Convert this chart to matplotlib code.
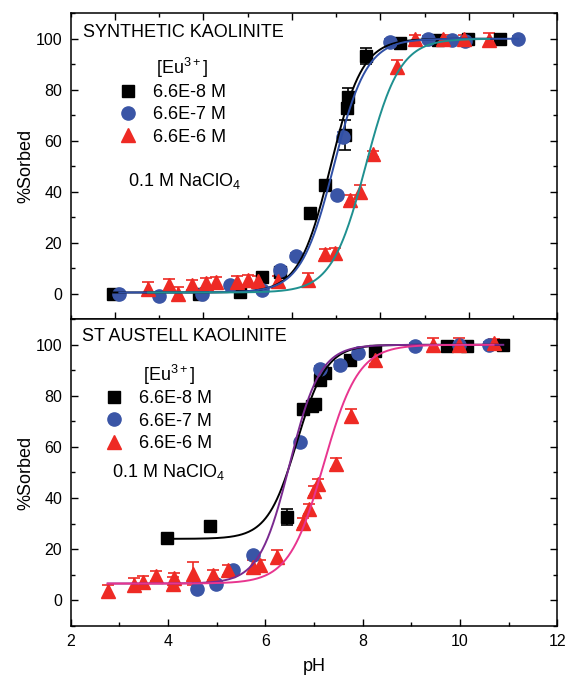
import numpy as np
import matplotlib
matplotlib.use('Agg')
import matplotlib.pyplot as plt
from matplotlib.ticker import MultipleLocator

plt.rcParams['font.family'] = ['Liberation Sans', 'DejaVu Sans']
plt.rcParams['mathtext.fontset'] = 'custom'
plt.rcParams['mathtext.rm'] = 'Liberation Sans'
plt.rcParams['mathtext.it'] = 'Liberation Sans:italic'

# ---- top panel: synthetic kaolinite ----
syn_x_8 = [1.96, 3.91, 4.83, 5.32, 5.73, 6.42, 6.76, 7.20, 7.25, 7.27, 7.68, 8.44, 9.31, 9.99, 10.70]
syn_y_8 = [0.0, 0.0, 0.6, 6.5, 8.5, 31.5, 42.6, 62.3, 72.7, 77.3, 93.3, 98.5, 99.6, 99.8, 100.0]
syn_e_8 = [1.0, 1.0, 1.0, 1.5, 1.5, 1.5, 1.5, 6.0, 2.0, 3.5, 3.0, 1.5, 1.0, 1.0, 1.0]

syn_x_7 = [2.10, 3.00, 3.96, 4.60, 5.32, 5.73, 6.09, 7.01, 7.16, 8.22, 9.08, 9.61, 9.91, 11.12]
syn_y_7 = [0.0, -0.7, 0.0, 3.3, 1.3, 9.2, 15.0, 38.7, 61.6, 98.9, 100.0, 99.7, 99.3, 100.0]
syn_e_7 = [1.0, 1.0, 1.0, 1.0, 1.0, 1.0, 1.0, 1.0, 2.0, 1.0, 1.0, 1.0, 1.0, 1.0]

syn_x_6 = [2.75, 3.23, 3.43, 3.74, 4.07, 4.28, 4.75, 5.01, 5.24, 5.69, 6.37, 6.75, 6.97,
           7.31, 7.54, 7.84, 8.38, 8.78, 9.42, 9.90, 10.46]
syn_y_6 = [2.0, 3.3, 0.0, 3.3, 4.2, 4.6, 4.8, 5.5, 5.0, 5.0, 5.5, 15.7, 16.0,
           36.7, 40.0, 54.8, 89.1, 99.8, 100.0, 100.0, 99.6]
syn_e_6 = [2.5, 2.5, 2.5, 2.0, 2.0, 2.0, 2.0, 2.0, 2.0, 2.0, 2.5, 2.0, 2.0,
           2.0, 2.5, 1.0, 2.5, 1.5, 1.5, 1.5, 2.5]

# logistic fit parameters (baseline, pH50, slope, pH range)
syn_fit_8 = (0.5, 6.88, 2.8, 1.96, 10.70)
syn_fit_7 = (0.5, 6.95, 2.7, 2.10, 11.12)
syn_fit_6 = (0.5, 7.67, 2.6, 2.75, 10.46)

# ---- bottom panel: St Austell kaolinite ----
sta_x_8 = [3.97, 4.86, 6.44, 6.78, 6.95, 7.02, 7.12, 7.23, 7.74, 8.25, 9.73, 10.14, 10.89]
sta_y_8 = [24.4, 29.2, 32.6, 74.8, 75.9, 76.8, 86.3, 88.9, 93.9, 97.7, 99.7, 99.7, 100.0]
sta_e_8 = [1.5, 1.5, 3.0, 1.5, 2.0, 2.0, 2.5, 1.5, 1.5, 1.5, 1.0, 1.0, 1.0]

sta_x_7 = [4.59, 4.99, 5.34, 5.75, 6.71, 7.12, 7.53, 7.91, 9.08, 9.97, 10.60]
sta_y_7 = [4.2, 6.5, 11.7, 17.5, 61.8, 90.6, 92.2, 96.8, 99.7, 100.0, 100.0]
sta_e_7 = [1.0, 1.0, 1.0, 1.0, 1.0, 1.0, 1.5, 1.0, 1.0, 1.0, 1.0]

sta_x_6 = [2.76, 3.30, 3.49, 3.75, 4.10, 4.12, 4.52, 4.93, 5.24, 5.75, 5.89, 6.25,
           6.77, 6.90, 7.00, 7.09, 7.45, 7.77, 8.25, 9.44, 9.99, 10.69]
sta_y_6 = [3.5, 6.1, 7.0, 9.4, 6.5, 8.5, 10.3, 10.0, 11.7, 13.1, 13.7, 17.0,
           30.3, 35.7, 42.6, 45.6, 53.5, 72.2, 93.9, 100.0, 100.0, 100.7]
sta_e_6 = [2.5, 2.5, 2.5, 2.0, 2.5, 2.0, 4.5, 2.0, 2.0, 2.5, 2.0, 2.5,
           2.0, 2.0, 2.0, 2.0, 2.0, 2.5, 1.5, 2.5, 2.5, 1.5]

sta_fit_8 = (24.0, 6.65, 3.3, 3.97, 10.89)
sta_fit_7 = (6.5, 6.50, 3.2, 2.76, 10.89)
sta_fit_6 = (6.5, 7.20, 2.8, 2.76, 10.69)

labels = ['6.6E-8 M', '6.6E-7 M', '6.6E-6 M']
c_sq, c_ci, c_tr = 'black', '#3a55a6', '#ee2a24'


def curve(p):
    base, x0, k, lo, hi = p
    xs = np.linspace(lo, hi, 300)
    return xs, base + (100 - base) / (1 + np.exp(-k * (xs - x0)))


def panel(ax, series, fits, fit_cols):
    styles = [('s', c_sq, 8.5), ('o', c_ci, 9.5), ('^', c_tr, 9.5)]
    for (x, y, e), (m, c, ms), lab in zip(series, styles, labels):
        ax.errorbar(x, y, yerr=e, fmt='none', ecolor=c, elinewidth=1.2,
                    capsize=4, capthick=1.2, zorder=2)
        ax.plot(x, y, m, color=c, ms=ms, mec=c, label=lab, zorder=3)
    for p, c in zip(fits, fit_cols):
        xs, ys = curve(p)
        ax.plot(xs, ys, '-', color=c, lw=1.4, zorder=4)
    ax.set_ylim(-10, 110)
    ax.yaxis.set_major_locator(MultipleLocator(20))
    ax.yaxis.set_minor_locator(MultipleLocator(10))
    ax.xaxis.set_major_locator(MultipleLocator(2))
    ax.xaxis.set_minor_locator(MultipleLocator(1))
    ax.tick_params(which='both', direction='in', labelsize=11.5, pad=6)
    ax.tick_params(which='major', length=5, width=1)
    ax.tick_params(which='minor', length=3, width=1)
    for s in ax.spines.values():
        s.set_linewidth(1.1)
    ax.set_ylabel('%Sorbed', fontsize=13)
    ax.yaxis.set_label_coords(-0.075, 0.5)


fig = plt.figure(figsize=(5.66, 6.77), dpi=100)
ax1 = fig.add_axes([0.1249, 0.5284, 0.8597, 0.4520])
ax2 = fig.add_axes([0.1249, 0.0758, 0.8597, 0.4526])

panel(ax1, [(syn_x_8, syn_y_8, syn_e_8), (syn_x_7, syn_y_7, syn_e_7), (syn_x_6, syn_y_6, syn_e_6)],
      [syn_fit_8, syn_fit_7, syn_fit_6], ['black', '#2f4fa6', '#1f9090'])
ax1.set_xlim(1, 12)
ax1.tick_params(which='both', top=True, right=True, labelbottom=False)

panel(ax2, [(sta_x_8, sta_y_8, sta_e_8), (sta_x_7, sta_y_7, sta_e_7), (sta_x_6, sta_y_6, sta_e_6)],
      [sta_fit_8, sta_fit_7, sta_fit_6], ['black', '#7a2a90', '#e8358f'])
ax2.set_xlim(2, 12)
ax2.tick_params(which='both', top=False, right=True)
ax2.set_xlabel('pH', fontsize=13)
ax2.xaxis.set_label_coords(0.5, -0.105)

ax1.text(0.025, 0.921, 'SYNTHETIC KAOLINITE', transform=ax1.transAxes, fontsize=13, va='baseline')
ax2.text(0.023, 0.930, 'ST AUSTELL KAOLINITE', transform=ax2.transAxes, fontsize=13, va='baseline')
ax1.text(0.117, 0.436, r'0.1 M NaClO$\mathregular{_4}$', transform=ax1.transAxes, fontsize=13, va='baseline')
ax2.text(0.084, 0.486, r'0.1 M NaClO$\mathregular{_4}$', transform=ax2.transAxes, fontsize=13, va='baseline')

# legend titles placed separately, legends without title
ax1.text(0.228, 0.803, r'[Eu$^{3+}$]', transform=ax1.transAxes, fontsize=13, va='baseline', ha='center')
ax2.text(0.203, 0.800, r'[Eu$^{3+}$]', transform=ax2.transAxes, fontsize=13, va='baseline', ha='center')

for ax, anchor in [(ax1, (0.095, 0.769)), (ax2, (0.067, 0.768))]:
    ax.legend(loc='upper left', bbox_to_anchor=anchor, frameon=False, fontsize=13,
              borderpad=0, borderaxespad=0,
              handlelength=1.2, handletextpad=0.8, labelspacing=0.3, markerscale=1.0)

fig.savefig('out.png', dpi=100)
